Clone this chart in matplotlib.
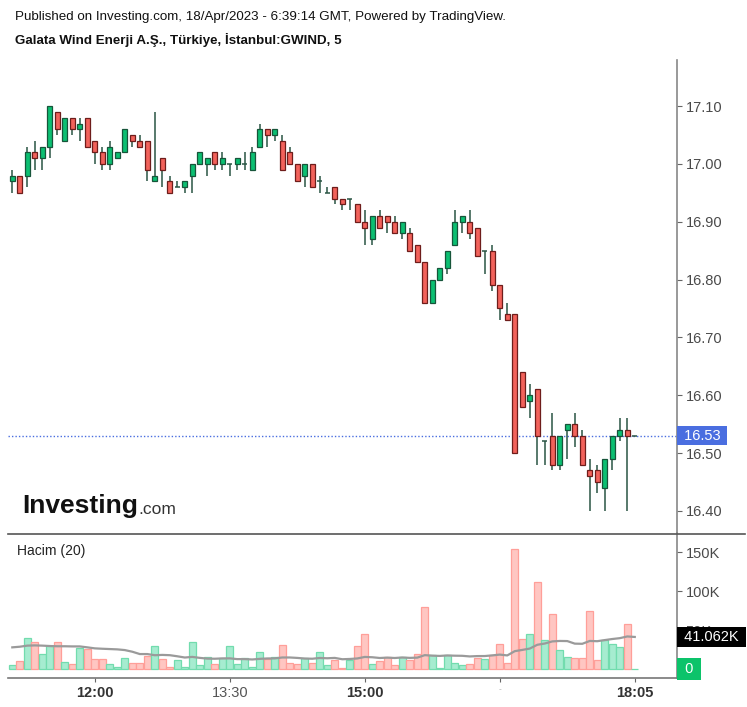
import matplotlib
matplotlib.use("Agg")
import matplotlib.pyplot as plt
import matplotlib.transforms as mtransforms
from matplotlib.lines import Line2D
import numpy as np

plt.rcParams['font.family'] = ['Liberation Sans', 'DejaVu Sans']

# ---------------- data (5-minute bars) ----------------
opens = [16.97, 16.98, 16.98, 17.02, 17.01, 17.03, 17.09, 17.04, 17.08, 17.06,
         17.08, 17.04, 17.02, 17.00, 17.01, 17.02, 17.05, 17.04, 17.04, 16.97,
         17.01, 16.97, 16.96, 16.96, 16.98, 17.00, 17.00, 17.02, 17.00, 17.00,
         17.00, 17.00, 16.99, 17.03, 17.06, 17.05, 17.04, 17.02, 17.00, 16.98,
         17.00, 16.97, 16.95, 16.96, 16.94, 16.94, 16.93, 16.90, 16.87, 16.91,
         16.91, 16.90, 16.88, 16.88, 16.86, 16.83, 16.76, 16.80, 16.82, 16.86,
         16.90, 16.90, 16.89, 16.85, 16.85, 16.79, 16.74, 16.74, 16.64, 16.59,
         16.61, 16.52, 16.53, 16.48, 16.54, 16.55, 16.53, 16.47, 16.47, 16.44,
         16.49, 16.53, 16.54, 16.53]
highs = [16.99, 16.98, 17.03, 17.04, 17.03, 17.10, 17.09, 17.08, 17.08, 17.08,
         17.08, 17.04, 17.03, 17.04, 17.02, 17.06, 17.05, 17.05, 17.04, 17.09,
         17.01, 16.98, 16.97, 16.97, 17.00, 17.02, 17.01, 17.02, 17.02, 17.00,
         17.01, 17.02, 17.03, 17.07, 17.06, 17.06, 17.05, 17.03, 17.00, 17.00,
         17.00, 16.98, 16.96, 16.96, 16.94, 16.94, 16.93, 16.92, 16.91, 16.92,
         16.91, 16.91, 16.90, 16.89, 16.86, 16.83, 16.80, 16.82, 16.85, 16.92,
         16.91, 16.92, 16.89, 16.85, 16.86, 16.79, 16.76, 16.74, 16.64, 16.62,
         16.61, 16.52, 16.57, 16.53, 16.55, 16.57, 16.54, 16.49, 16.48, 16.49,
         16.53, 16.56, 16.56, 16.53]
lows = [16.95, 16.95, 16.96, 16.99, 16.99, 17.01, 17.05, 17.04, 17.05, 17.04,
        17.03, 17.00, 16.99, 16.99, 17.01, 17.02, 17.03, 17.03, 16.97, 16.97,
        16.96, 16.95, 16.96, 16.95, 16.95, 17.00, 16.98, 16.99, 16.99, 16.98,
        16.99, 16.99, 16.99, 17.03, 17.03, 17.04, 16.99, 17.00, 16.97, 16.96,
        16.96, 16.95, 16.95, 16.93, 16.92, 16.92, 16.90, 16.86, 16.86, 16.89,
        16.88, 16.88, 16.87, 16.85, 16.83, 16.76, 16.76, 16.80, 16.81, 16.86,
        16.88, 16.87, 16.84, 16.81, 16.78, 16.73, 16.73, 16.50, 16.58, 16.56,
        16.48, 16.48, 16.47, 16.47, 16.49, 16.51, 16.48, 16.40, 16.43, 16.40,
        16.47, 16.52, 16.40, 16.53]
closes = [16.98, 16.95, 17.02, 17.01, 17.03, 17.10, 17.06, 17.08, 17.06, 17.07,
          17.03, 17.02, 17.00, 17.03, 17.02, 17.06, 17.04, 17.03, 16.99, 16.98,
          16.99, 16.95, 16.96, 16.97, 17.00, 17.02, 17.01, 17.00, 17.01, 17.00,
          17.01, 17.00, 17.02, 17.06, 17.05, 17.06, 16.99, 17.00, 16.97, 17.00,
          16.96, 16.97, 16.95, 16.94, 16.93, 16.94, 16.90, 16.89, 16.91, 16.89,
          16.90, 16.88, 16.90, 16.85, 16.83, 16.76, 16.80, 16.82, 16.85, 16.90,
          16.91, 16.88, 16.84, 16.85, 16.79, 16.75, 16.73, 16.50, 16.58, 16.60,
          16.53, 16.52, 16.48, 16.53, 16.55, 16.53, 16.48, 16.46, 16.45, 16.49,
          16.53, 16.54, 16.53, 16.53]
volumes_k = [5, 10, 40, 35, 19, 30, 35, 9, 6, 27,
             26, 13, 13, 6, 3, 14, 8, 8, 17, 30,
             13, 3, 12, 3, 35, 5, 16, 6, 14, 29,
             6, 14, 3, 22, 13, 16, 31, 8, 6, 14,
             8, 22, 5, 12, 1, 12, 29, 45, 6, 10,
             15, 5, 16, 12, 19, 80, 18, 1, 18, 8,
             5, 6, 14, 13, 18, 32, 8, 154, 38, 45,
             112, 37, 70, 24, 16, 14, 14, 74, 11.5, 37,
             32, 28, 58, 0]
# volume MA(20) values for the first 19 bars (earlier bars are off-chart)
ma_head_k = [27.8, 28.6, 30.0, 30.3, 30.0, 29.5, 29.2, 29.2, 29.0, 29.0,
             27.8, 26.5, 26.0, 25.6, 25.2, 24.3, 22.2, 19.2, 19.2]

x_tick_bars = [11, 29, 47, 65, 83]
x_tick_labels = ['12:00', '13:30', '15:00', '-', '18:05']
x_tick_bold = [True, False, True, False, True]
price_ticks = [16.40, 16.50, 16.60, 16.70, 16.80, 16.90, 17.00, 17.10]
vol_ticks_k = [50, 100, 150]
last_price = 16.53
last_ma_text = '41.062K'

# ---------------- layout ----------------
W, H = 747, 707
fig = plt.figure(figsize=(W / 100, H / 100), dpi=100)


def fx(px):
    return px / W


def fy(py):
    return 1 - py / H


L, R = 8, 677
ax = fig.add_axes([fx(L), fy(533), fx(R) - fx(L), fy(60) - fy(533)])
axv = fig.add_axes([fx(L), fy(678), fx(R) - fx(L), fy(533) - fy(678)], sharex=ax)

n = len(opens)
xs = np.arange(n)
o = np.array(opens)
h = np.array(highs)
l = np.array(lows)
c = np.array(closes)
up = c >= o

GREEN = '#0cbf72'
GREEN_EDGE = '#17553a'
RED = '#f2625b'
RED_EDGE = '#6e1d1b'
WICK = '#2a5544'
TXT = '#4a4a4a'
AXC = '#666666'

# wicks
ax.vlines(xs, l, h, color=WICK, lw=1.1, zorder=2)
# bodies
body_w = 0.72
for i in range(n):
    lo, hi = min(o[i], c[i]), max(o[i], c[i])
    if hi - lo < 1e-9:
        ax.hlines(lo, i - body_w / 2, i + body_w / 2, color=WICK, lw=1.1, zorder=3)
    else:
        ax.bar(i, hi - lo, bottom=lo, width=body_w,
               color=GREEN if up[i] else RED,
               edgecolor=GREEN_EDGE if up[i] else RED_EDGE, lw=0.9, zorder=3)

ax.set_xlim(-0.573, 88.63)
ax.set_ylim(16.3616, 17.1799)

ax.axhline(last_price, color='#4a6ee0', lw=1.0, ls=(0, (1, 1.5)), zorder=1)

ax.yaxis.tick_right()
ax.set_yticks(price_ticks)
ax.set_yticklabels([f'{p:.2f}' for p in price_ticks])
ax.tick_params(axis='y', colors=AXC, labelcolor=TXT, labelsize=10.5,
               length=3.75, width=0.8, pad=2.5)
ax.tick_params(axis='x', bottom=False, labelbottom=False)
for s in ['top', 'left', 'bottom']:
    ax.spines[s].set_visible(False)
ax.spines['right'].set_color('#888888')
ax.spines['right'].set_linewidth(1.2)

trans = mtransforms.blended_transform_factory(ax.transAxes, ax.transData)
ax.annotate(' 16.53 ', xy=(1.0, last_price), xycoords=trans,
            xytext=(1.9, 0), textcoords='offset points',
            ha='left', va='center', fontsize=10.5, color='white',
            zorder=10, annotation_clip=False,
            bbox=dict(boxstyle='square,pad=0.18', fc='#4a6ee0', ec='none'))

# logo
fig.text(fx(22), fy(506), 'Investing', fontsize=19, fontweight='bold',
         color='#111111', ha='left', va='center')
fig.text(fx(138), fy(509), '.com', fontsize=12.5, color='#333333',
         ha='left', va='center')

# ---------------- volume ----------------
vcol = ['#a6ecd0' if u else '#ffc6c2' for u in up]
vedge = ['#72dcae' if u else '#ff9f99' for u in up]
axv.bar(xs, volumes_k, width=0.95, color=vcol, edgecolor=vedge, lw=0.9, zorder=2)

vol = np.array(volumes_k, dtype=float)
ma = np.convolve(vol, np.ones(20) / 20, mode='valid')
ma_full = np.concatenate([ma_head_k, ma])
axv.plot(xs, ma_full, color='#9a9a9a', lw=1.6, zorder=3)

axv.set_ylim(-11.5, 174.4)
axv.yaxis.tick_right()
axv.set_yticks(vol_ticks_k)
axv.set_yticklabels([f'{v}K' for v in vol_ticks_k])
axv.tick_params(axis='y', colors=AXC, labelcolor=TXT, labelsize=10.5,
                length=3.75, width=0.8, pad=2.5)
for s in ['top', 'left']:
    axv.spines[s].set_visible(False)
axv.spines['right'].set_color('#888888')
axv.spines['right'].set_linewidth(1.2)
axv.spines['bottom'].set_color('#777777')
axv.spines['bottom'].set_linewidth(1.2)

axv.set_xticks(x_tick_bars)
axv.set_xticklabels(x_tick_labels)
axv.tick_params(axis='x', colors=AXC, labelcolor=TXT, labelsize=10.5,
                length=3, width=0.8, pad=3)
for lab, b in zip(axv.get_xticklabels(), x_tick_bold):
    if b:
        lab.set_fontweight('bold')
        lab.set_color('#333333')
    else:
        lab.set_color('#555555')
labs = axv.get_xticklabels()
labs[3].set_fontsize(6)
labs[3].set_color('#aaaaaa')

transv = mtransforms.blended_transform_factory(axv.transAxes, axv.transData)
axv.annotate(' ' + last_ma_text + ' ', xy=(1.0, ma_full[-1]), xycoords=transv,
             xytext=(2.1, 0), textcoords='offset points',
             ha='left', va='center', fontsize=10.5, color='white',
             zorder=10, annotation_clip=False,
             bbox=dict(boxstyle='square,pad=0.2', fc='#000000', ec='none'))
axv.annotate(' 0 ', xy=(1.0, 0), xycoords=transv,
             xytext=(2.6, 0), textcoords='offset points',
             ha='left', va='center', fontsize=10.5, color='white',
             zorder=10, annotation_clip=False,
             bbox=dict(boxstyle='square,pad=0.25', fc='#0cc36a', ec='none'))

fig.text(fx(17), fy(551), 'Hacim (20)', fontsize=10, color='#222222',
         ha='left', va='center')

# separator line between panes (extends under the price scale)
fig.add_artist(Line2D([fx(8), fx(745)], [fy(533.5), fy(533.5)],
                      color='#555555', lw=1.2))

# header
fig.text(fx(15), fy(17), 'Published on Investing.com, 18/Apr/2023 - 6:39:14 GMT, Powered by TradingView.',
         fontsize=9.6, color='#111111', ha='left', va='center')
fig.text(fx(15), fy(40), 'Galata Wind Enerji A.Ş., Türkiye, İstanbul:GWIND, 5',
         fontsize=9.6, fontweight='bold', color='#111111', ha='left', va='center')

fig.savefig('out.png', dpi=100)
